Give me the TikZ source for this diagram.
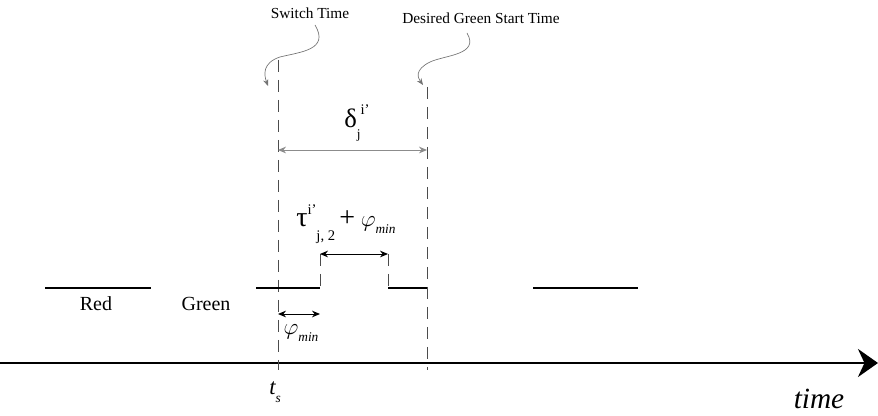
\documentclass[tikz,border=0pt]{standalone}
\usepackage{fontspec}
\setmainfont{Liberation Serif}
\usetikzlibrary{arrows.meta}
\newcommand{\subit}[1]{\raisebox{-0.3em}{\fontsize{10}{11}\itshape #1}}
\begin{document}
\begin{tikzpicture}[x=0.75pt,y=-0.75pt,
  guide/.style={draw=black!70,dash pattern=on 9pt off 6pt,line width=0.6pt},
  phase/.style={line width=2pt},
  span/.style={{Stealth[length=6pt,width=5pt]}-{Stealth[length=6pt,width=5pt]},line width=0.7pt},
  callout/.style={draw=black!55,line width=0.5pt,-{Stealth[length=5pt,width=4pt]}},
  lbl/.style={inner sep=0pt,font=\fontsize{15}{17}\selectfont},
  note/.style={inner sep=0pt,font=\fontsize{11.5}{13}\selectfont}]
\useasboundingbox (0,0) rectangle (878,416);

% time axis
\coordinate (ax0) at (0,363);
\coordinate (ax1) at (878,363);
\draw[line width=2.2pt,-{Stealth[length=15pt,width=21pt]}] (ax0) -- (ax1);
\node[inner sep=0pt,font=\fontsize{22}{24}\itshape] (time) at (819,399) {time};

% vertical guides
\coordinate (sw0) at (278,60);  \coordinate (sw1) at (278,370);
\coordinate (dg0) at (427,87);  \coordinate (dg1) at (427,370);
\coordinate (ga0) at (320,254); \coordinate (ga1) at (320,288);
\coordinate (gb0) at (388,254); \coordinate (gb1) at (388,288);
\draw[guide] (sw0) -- (sw1);
\draw[guide] (dg0) -- (dg1);
\draw[guide] (ga0) -- (ga1);
\draw[guide] (gb0) -- (gb1);

% signal phases
\coordinate (r0) at (45,288);  \coordinate (r1) at (151,288);
\coordinate (g0) at (256,288); \coordinate (g1) at (320,288);
\coordinate (h0) at (388,288); \coordinate (h1) at (427,288);
\coordinate (k0) at (533,288); \coordinate (k1) at (638,288);
\draw[phase] (r0) -- (r1);
\draw[phase] (g0) -- (g1);
\draw[phase] (h0) -- (h1);
\draw[phase] (k0) -- (k1);
\node[lbl] (red) at (96,304) {Red};
\node[lbl] (green) at (206,304) {Green};

% spans
\coordinate (d0) at (278,150); \coordinate (d1) at (427,150);
\draw[span,draw=black!45] (d0) -- (d1);
\node[inner sep=0pt,font=\fontsize{20}{22}\selectfont,anchor=west] (delta) at (344,123) {δ\raisebox{-0.4em}{\fontsize{10}{11}\selectfont j}\raisebox{0.5em}{\fontsize{11}{12}\selectfont i’}};

\coordinate (t0) at (320,254); \coordinate (t1) at (388,254);
\draw[span] (t0) -- (t1);
\node[inner sep=0pt,font=\fontsize{21}{23}\selectfont,anchor=west] (tau) at (296,224) {τ\raisebox{0.45em}{\fontsize{11}{12}\selectfont i’}\raisebox{-0.5em}{\fontsize{11}{12}\selectfont j, 2}\hspace{0.15em}+\hspace{0.2em}\fontsize{17}{19}\selectfont$\varphi$\subit{min}};

\coordinate (p0) at (278,314); \coordinate (p1) at (320,314);
\draw[span] (p0) -- (p1);
\node[inner sep=0pt,font=\fontsize{17}{19}\selectfont] (phi) at (301,333) {$\varphi$\subit{min}};

\node[inner sep=0pt,font=\fontsize{17}{19}\itshape] (ts) at (275,392) {t\raisebox{-0.35em}{\fontsize{10}{11}\itshape s}};

% captions with curved pointers
\node[note] (swl) at (310,13) {Switch Time};
\node[note] (dgl) at (481,18) {Desired Green Start Time};
\coordinate (swt) at (268,86);
\coordinate (dgt) at (423,85);
\draw[callout] (315,25) .. controls (330,50) and (300,52) .. (280,57) .. controls (262,63) and (264,75) .. (swt);
\draw[callout] (467,33) .. controls (480,55) and (445,55) .. (430,62) .. controls (414,70) and (418,78) .. (dgt);
\end{tikzpicture}
\end{document}
